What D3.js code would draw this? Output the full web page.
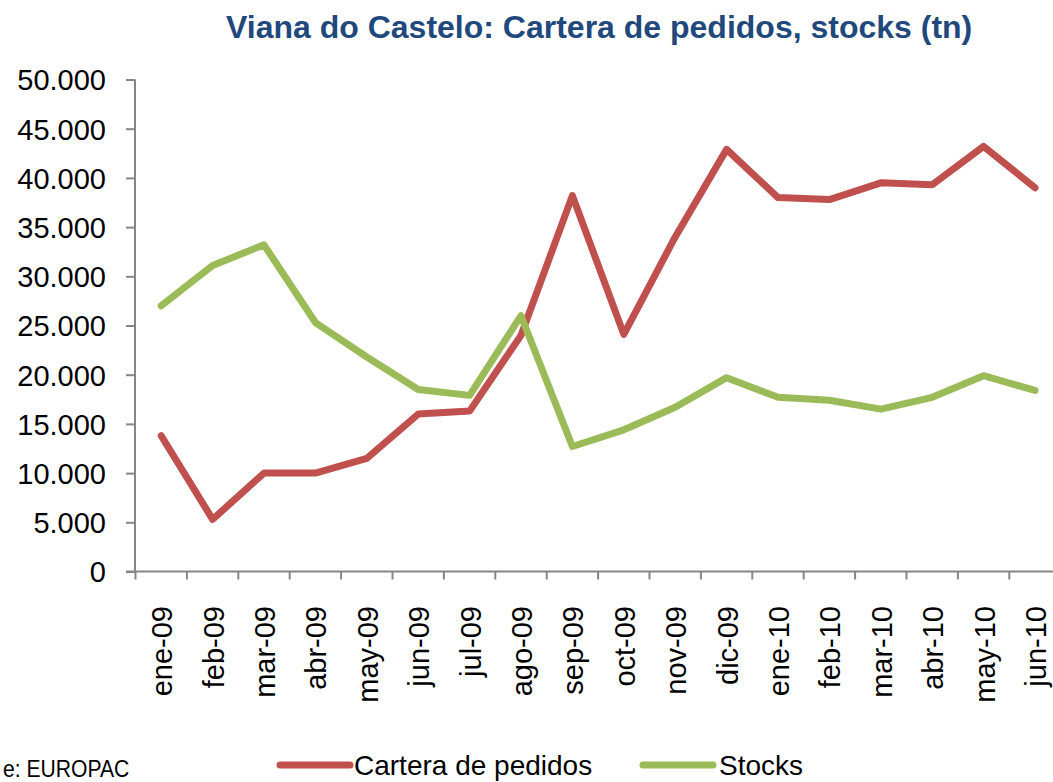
<!DOCTYPE html>
<html>
<head>
<meta charset="utf-8">
<script src="https://cdn.jsdelivr.net/npm/d3@7"></script>
<style>
  html, body { margin: 0; padding: 0; background: #fff; overflow: hidden; }
  svg { display: block; }
</style>
</head>
<body>
<svg id="chart" width="1053" height="782"></svg>
<script>
const months = ["ene-09","feb-09","mar-09","abr-09","may-09","jun-09","jul-09","ago-09","sep-09",
                "oct-09","nov-09","dic-09","ene-10","feb-10","mar-10","abr-10","may-10","jun-10"];
const cartera = [13800, 5300, 10000, 10000, 11500, 16000, 16300, 24000, 38200,
                 24100, 34000, 42900, 38000, 37800, 39500, 39300, 43200, 39000];
const stocks  = [27000, 31100, 33200, 25300, 21800, 18500, 17900, 26000, 12700,
                 14400, 16700, 19700, 17700, 17400, 16500, 17700, 19900, 18400];
const yTicks = [0, 5000, 10000, 15000, 20000, 25000, 30000, 35000, 40000, 45000, 50000];
const seriesNames = ["Cartera de pedidos", "Stocks"];
const seriesColors = ["#C0504D", "#9BBB59"];
const titleText = "Viana do Castelo: Cartera de pedidos, stocks (tn)";
const sourceText = "e: EUROPAC";

const svg = d3.select("#chart");
const axisColor = "#868686";

const x = d3.scaleBand().domain(months).range([135.5, 135.5 + 18 * 51.4]).padding(0);
const y = d3.scaleLinear().domain([0, 50000]).range([571.5, 79.5]);
const locale = d3.formatLocale({decimal: ",", thousands: ".", grouping: [3], currency: ["", ""]});
const fmt = locale.format(",");

// Title
svg.append("text")
  .attr("x", 226).attr("y", 38)
  .attr("font-family", "'Liberation Sans', Arial, sans-serif")
  .attr("font-weight", "bold")
  .attr("font-size", 32)
  .attr("fill", "#1F497D")
  .text(titleText);

// Y axis
const yAxis = d3.axisLeft(y).tickValues(yTicks).tickFormat(fmt).tickSize(9).tickPadding(20);
const gy = svg.append("g").attr("transform", "translate(135,0)").call(yAxis);
gy.select(".domain").attr("stroke", axisColor).attr("stroke-width", 2).attr("d", `M0,${y(50000)}V${y(0)}`);
gy.selectAll(".tick line").attr("stroke", axisColor).attr("stroke-width", 2);
gy.selectAll(".tick text")
  .attr("font-family", "'Liberation Sans', Arial, sans-serif")
  .attr("font-size", 29)
  .attr("fill", "#000")
  .attr("x", -29)
  .attr("dy", "0.36em");

// X axis
const xAxis = d3.axisBottom(x).tickSize(8);
const gx = svg.append("g").attr("transform", `translate(0,${y(0)})`).call(xAxis);
gx.select(".domain").attr("stroke", axisColor).attr("stroke-width", 2).attr("d", "M126,0H1053");
gx.selectAll(".tick line")
  .attr("stroke", axisColor).attr("stroke-width", 2)
  .attr("x1", -x.bandwidth() / 2).attr("x2", -x.bandwidth() / 2);
gx.selectAll(".tick text")
  .attr("font-family", "'Liberation Sans', Arial, sans-serif")
  .attr("font-size", 29)
  .attr("fill", "#000")
  .attr("text-anchor", "end")
  .attr("transform", "rotate(-90)")
  .attr("x", -(606 - y(0)))
  .attr("y", 11)
  .attr("dy", 0);

// Lines
const line = d3.line().x((d, i) => x(months[i]) + x.bandwidth() / 2).y(d => y(d));
[cartera, stocks].forEach((s, k) => {
  svg.append("path")
    .datum(s)
    .attr("d", line)
    .attr("fill", "none")
    .attr("stroke", seriesColors[k])
    .attr("stroke-width", 7)
    .attr("stroke-linejoin", "round")
    .attr("stroke-linecap", "round");
});

// Legend
const legendPos = [{x1: 280, x2: 350, tx: 354}, {x1: 643, x2: 713, tx: 719}];
seriesNames.forEach((name, k) => {
  const p = legendPos[k];
  svg.append("line")
    .attr("x1", p.x1).attr("x2", p.x2).attr("y1", 765).attr("y2", 765)
    .attr("stroke", seriesColors[k]).attr("stroke-width", 7).attr("stroke-linecap", "round");
  svg.append("text")
    .attr("x", p.tx).attr("y", 775)
    .attr("font-family", "'Liberation Sans', Arial, sans-serif")
    .attr("font-size", 28)
    .attr("fill", "#000")
    .text(name);
});

// Source
svg.append("text")
  .attr("transform", "translate(3,777) scale(0.88,1)")
  .attr("font-family", "'Liberation Sans', Arial, sans-serif")
  .attr("font-size", 24)
  .attr("fill", "#000")
  .text(sourceText);
</script>
</body>
</html>
